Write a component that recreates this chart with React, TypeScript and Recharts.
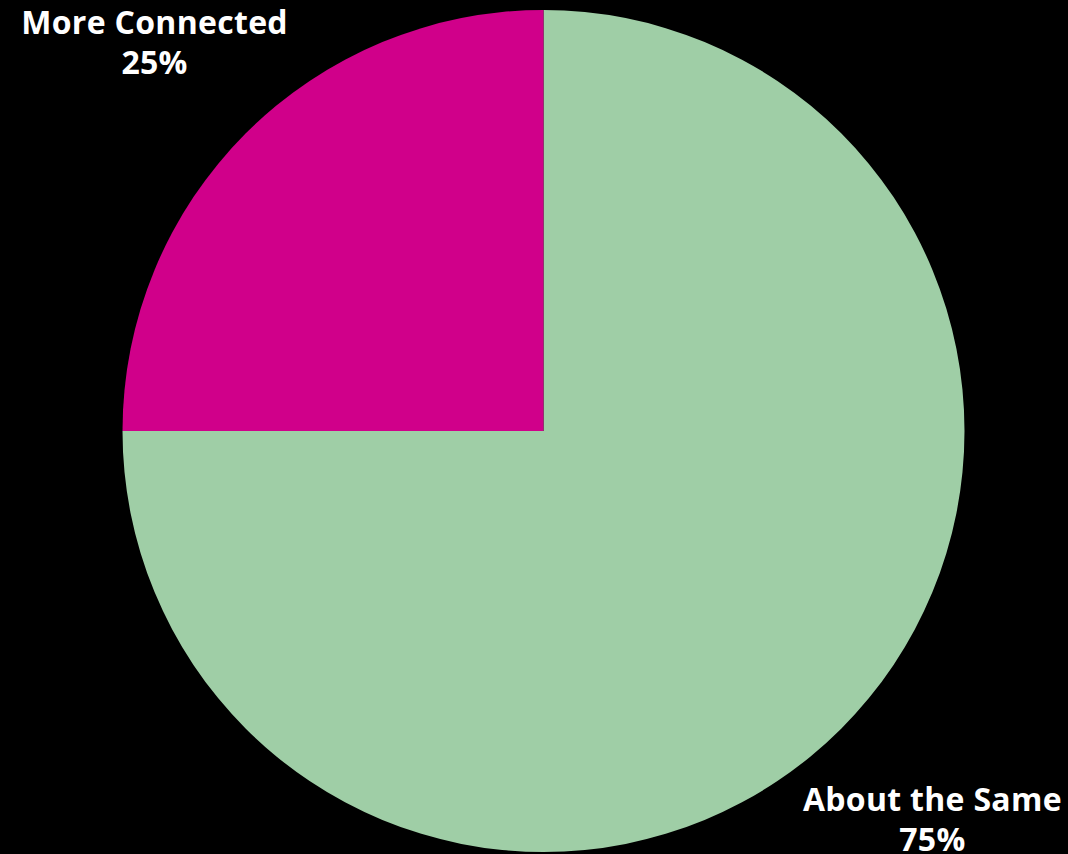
import { PieChart, Pie, Cell } from 'recharts'

const categories = ['About the Same', 'More Connected']
const values = [75, 25]
const colors = ['#9fcea6', '#d0008a']

const data = categories.map((name, i) => ({ name, value: values[i] }))

const RADIAN = Math.PI / 180

function renderLabel(props: any) {
  const { cx, cy, midAngle, outerRadius, index } = props
  const r = outerRadius + 129
  const x = cx + r * Math.cos(-midAngle * RADIAN)
  const y = cy + r * Math.sin(-midAngle * RADIAN)
  return (
    <text
      x={x}
      y={y}
      fill="#ffffff"
      textAnchor="middle"
      fontFamily="'Open Sans', sans-serif"
      fontWeight={700}
      fontSize={32}
      letterSpacing={0.3}
    >
      <tspan x={x} y={y - 8.5}>{categories[index]}</tspan>
      <tspan x={x} y={y + 31.5}>{values[index]}%</tspan>
    </text>
  )
}

export default function App() {
  return (
    <div style={{ position: 'fixed', left: 0, top: 0, width: 1068, height: 854, background: '#000000' }}>
      <PieChart width={1068} height={854} margin={{ top: 0, right: 0, bottom: 0, left: 0 }}>
        <Pie
          data={data}
          dataKey="value"
          nameKey="name"
          cx={543.5}
          cy={431}
          outerRadius={421}
          startAngle={90}
          endAngle={-270}
          stroke="none"
          label={renderLabel}
          labelLine={false}
          isAnimationActive={false}
        >
          {data.map((entry, index) => (
            <Cell key={`cell-${index}`} fill={colors[index]} />
          ))}
        </Pie>
      </PieChart>
    </div>
  )
}
